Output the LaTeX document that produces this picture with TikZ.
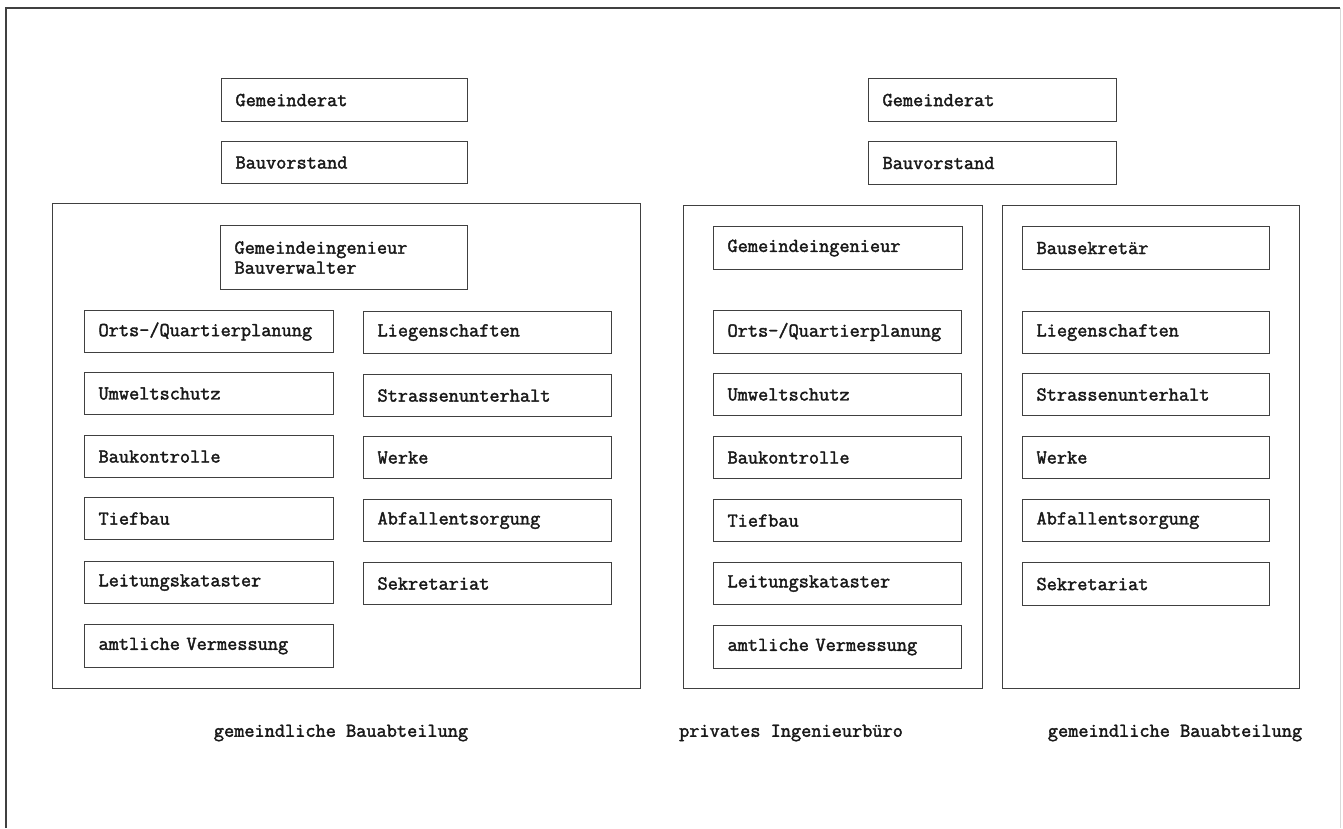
\documentclass[tikz,border=0pt]{standalone}
\usepackage{fontspec}
\newfontfamily\boxfont[FakeBold=2]{Latin Modern Mono}
\tikzset{
  box/.style={draw=black!75, line width=1.1pt, anchor=north west, inner xsep=14pt, inner ysep=0pt,
    align=left, text=black!90, font=\boxfont\fontsize{19.75}{20}\selectfont},
  cont/.style={draw=black!75, line width=1.1pt, anchor=north west, inner sep=0pt},
  caption/.style={text=black!90, font=\boxfont\fontsize{19.75}{20}\selectfont, inner sep=0pt}
}
\newcommand\bx[6]{\pgfmathsetmacro\tw{#4-28}%
  \node[box, minimum width=#4pt, minimum height=#5pt, text width=\tw pt] (#1) at (#2,#3) {#6};}
\begin{document}
\begin{tikzpicture}[x=1pt,y=-1pt]
\useasboundingbox (0,0) rectangle (1343,828);
% outer frame
\coordinate (ftl) at (6,8);
\coordinate (ftr) at (1340,8);
\coordinate (fbl) at (6,828);
\coordinate (fbr) at (1340,828);
\draw[black!75, line width=1.1pt] (fbl) -- (ftl) -- (ftr);
\draw[black!15, line width=0.8pt] (ftr) -- (fbr);

% ---------- left: gemeindliche Bauabteilung ----------
\bx{grL}{221}{78}{246}{43}{Gemeinderat}
\bx{bvL}{221}{141}{246}{42}{Bauvorstand}
\node[cont, minimum width=588pt, minimum height=485pt] (contL) at (52,203) {};
\bx{giL}{220}{225}{247}{64}{Gemeindeingenieur\\Bauverwalter}
\bx{l1}{84}{310}{249}{42}{Orts-/Quartierplanung}
\bx{l2}{84}{372}{249}{42}{Umweltschutz}
\bx{l3}{84}{435}{249}{42}{Baukontrolle}
\bx{l4}{84}{497}{249}{42}{Tiefbau}
\bx{l5}{84}{561}{249}{42}{Leitungskataster}
\bx{l6}{84}{624}{249}{43}{amtliche Vermessung}
\bx{r1}{363}{311}{248}{42}{Liegenschaften}
\bx{r2}{363}{374}{248}{42}{Strassenunterhalt}
\bx{r3}{363}{436}{248}{42}{Werke}
\bx{r4}{363}{499}{248}{42}{Abfallentsorgung}
\bx{r5}{363}{562}{248}{42}{Sekretariat}
\node[caption] (capL) at (341,733) {gemeindliche Bauabteilung};

% ---------- right top ----------
\bx{grR}{868}{78}{248}{43}{Gemeinderat}
\bx{bvR}{868}{141}{248}{43}{Bauvorstand}

% ---------- middle: privates Ingenieurbuero ----------
\node[cont, minimum width=299pt, minimum height=483pt] (contM) at (683,205) {};
\bx{giM}{713}{226}{249}{43}{Gemeindeingenieur}
\bx{m1}{713}{310}{248}{43}{Orts-/Quartierplanung}
\bx{m2}{713}{373}{248}{42}{Umweltschutz}
\bx{m3}{713}{436}{248}{42}{Baukontrolle}
\bx{m4}{713}{499}{248}{42}{Tiefbau}
\bx{m5}{713}{562}{248}{42}{Leitungskataster}
\bx{m6}{713}{625}{248}{43}{amtliche Vermessung}
\node[caption] (capM) at (791,733) {privates Ingenieurbüro};

% ---------- right: gemeindliche Bauabteilung ----------
\node[cont, minimum width=297pt, minimum height=483pt] (contR) at (1002,205) {};
\bx{bsR}{1022}{226}{247}{43}{Bausekretär}
\bx{s1}{1022}{311}{247}{42}{Liegenschaften}
\bx{s2}{1022}{373}{247}{42}{Strassenunterhalt}
\bx{s3}{1022}{436}{247}{42}{Werke}
\bx{s4}{1022}{499}{247}{42}{Abfallentsorgung}
\bx{s5}{1022}{562}{247}{43}{Sekretariat}
\node[caption] (capR) at (1175,733) {gemeindliche Bauabteilung};
\end{tikzpicture}
\end{document}
